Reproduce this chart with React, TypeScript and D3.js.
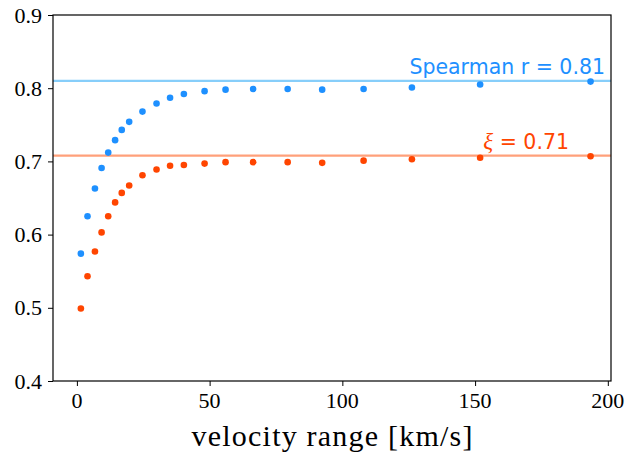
import { useEffect, useRef } from 'react';
import * as d3 from 'd3';

// velocity ranges [km/s]
const velocity = [1.5, 4.0, 6.8, 9.3, 11.8, 14.4, 16.9, 19.7, 24.7, 30.0, 35.1, 40.3, 48.1, 56.0, 66.4, 79.4, 92.4, 108.0, 126.2, 151.9, 193.5];
const spearman = [0.574, 0.625, 0.663, 0.691, 0.712, 0.729, 0.743, 0.754, 0.768, 0.779, 0.787, 0.792, 0.796, 0.798, 0.799, 0.799, 0.798, 0.799, 0.801, 0.805, 0.809];
const xi = [0.499, 0.543, 0.577, 0.603, 0.625, 0.644, 0.657, 0.667, 0.681, 0.689, 0.694, 0.695, 0.697, 0.699, 0.699, 0.699, 0.698, 0.701, 0.703, 0.705, 0.707];
const spearmanRef = 0.81;
const xiRef = 0.708;
const xTicks = [0, 50, 100, 150, 200];
const yTicks = [0.4, 0.5, 0.6, 0.7, 0.8, 0.9];

const App = () => {
  const svgRef = useRef<SVGSVGElement>(null);

  useEffect(() => {
    const width = 632;
    const height = 455;
    const margin = { top: 15, right: 21, bottom: 74, left: 53 };

    const svg = d3.select(svgRef.current).attr('width', width).attr('height', height);
    svg.selectAll('*').remove();

    const x = d3.scaleLinear().domain([-9.0, 201.2]).range([margin.left, width - margin.right]);
    const y = d3.scaleLinear().domain([0.4, 0.9]).range([height - margin.bottom, margin.top]);

    const serif = "'Liberation Serif', serif";
    const sans = "'DejaVu Sans', sans-serif";

    // reference lines
    const refs = [
      { v: spearmanRef, color: '#87cefa' },
      { v: xiRef, color: '#ffa07a' },
    ];
    svg.selectAll('.ref')
      .data(refs)
      .enter().append('line')
      .attr('x1', margin.left)
      .attr('x2', width - margin.right)
      .attr('y1', d => y(d.v))
      .attr('y2', d => y(d.v))
      .attr('stroke', d => d.color)
      .attr('stroke-width', 2.2);

    const series = [
      { vals: spearman, color: '#1e90ff' },
      { vals: xi, color: '#ff4500' },
    ];
    series.forEach(s => {
      svg.append('g')
        .selectAll('circle')
        .data(s.vals)
        .enter().append('circle')
        .attr('cx', (_, i) => x(velocity[i]))
        .attr('cy', d => y(d))
        .attr('r', 3.3)
        .attr('fill', s.color);
    });

    // annotations
    svg.append('text')
      .attr('x', 605)
      .attr('y', 74)
      .attr('text-anchor', 'end')
      .attr('font-family', sans)
      .attr('font-size', 20.5)
      .attr('fill', '#1e90ff')
      .text(`Spearman r = ${spearmanRef.toFixed(2)}`);

    const xiText = svg.append('text')
      .attr('x', 569)
      .attr('y', 149)
      .attr('text-anchor', 'end')
      .attr('font-family', sans)
      .attr('font-size', 20.5)
      .attr('fill', '#ff4500');
    xiText.append('tspan').attr('font-family', serif).attr('font-style', 'italic').attr('font-size', 23).text('ξ');
    xiText.append('tspan').text(` = ${xiRef.toFixed(2)}`);

    // frame
    svg.append('rect')
      .attr('x', margin.left)
      .attr('y', margin.top)
      .attr('width', width - margin.left - margin.right)
      .attr('height', height - margin.top - margin.bottom)
      .attr('fill', 'none')
      .attr('stroke', '#000')
      .attr('stroke-width', 1.2);

    // ticks
    const xAxis = svg.append('g')
      .attr('transform', `translate(0,${height - margin.bottom})`)
      .call(d3.axisBottom(x).tickValues(xTicks).tickSize(5).tickFormat(() => ''));
    xAxis.select('.domain').remove();

    const yAxis = svg.append('g')
      .attr('transform', `translate(${margin.left},0)`)
      .call(d3.axisLeft(y).tickValues(yTicks).tickSize(5).tickFormat(() => ''));
    yAxis.select('.domain').remove();

    // tick labels
    svg.append('g')
      .attr('font-family', serif)
      .attr('font-size', 22)
      .selectAll('text')
      .data(xTicks)
      .enter().append('text')
      .attr('x', d => x(d))
      .attr('y', height - margin.bottom + 27)
      .attr('text-anchor', 'middle')
      .text(d => d3.format('d')(d));

    svg.append('g')
      .attr('font-family', serif)
      .attr('font-size', 22)
      .selectAll('text')
      .data(yTicks)
      .enter().append('text')
      .attr('x', margin.left - 11)
      .attr('y', d => y(d) + 7.5)
      .attr('text-anchor', 'end')
      .text(d => d3.format('.1f')(d));

    svg.append('text')
      .attr('x', (margin.left + width - margin.right) / 2)
      .attr('y', 446)
      .attr('text-anchor', 'middle')
      .attr('font-family', serif)
      .attr('font-size', 30)
      .attr('textLength', 281)
      .text('velocity range [km/s]');
  }, []);

  return (
    <div style={{ position: 'absolute', left: 0, top: 0 }}>
      <svg ref={svgRef}></svg>
    </div>
  );
};

export default App;
